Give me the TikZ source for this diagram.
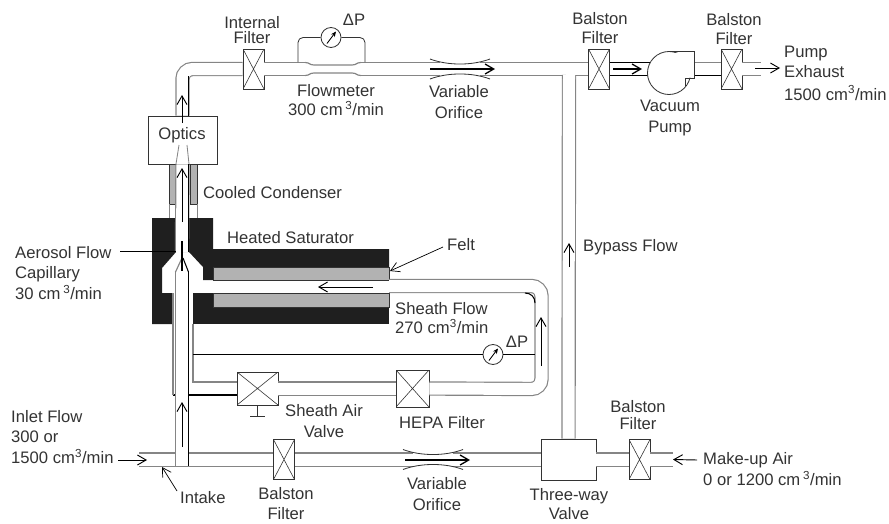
\documentclass[tikz,border=0pt]{standalone}
\usepackage{fontspec}
\setmainfont{Liberation Sans}
\usetikzlibrary{calc,arrows.meta}
\definecolor{tubegray}{gray}{0.52}
\definecolor{inkgray}{gray}{0.2}
\tikzset{
  labeltext/.style={inner sep=0pt,text=inkgray,align=center,font=\fontsize{14.2}{17.5}\selectfont},
  filterbox/.style={draw=inkgray,fill=white,line width=.7pt,inner sep=0pt,minimum width=.63cm,minimum height=1.2cm,
    path picture={\draw[inkgray,line width=.5pt] (path picture bounding box.north west) -- (path picture bounding box.south east)
      (path picture bounding box.north east) -- (path picture bounding box.south west);}},
  plainbox/.style={draw=inkgray,fill=white,line width=.7pt,inner sep=0pt},
  gaugedial/.style={circle,draw=inkgray,fill=white,line width=.7pt,inner sep=0pt,minimum size=.6cm,
    path picture={\draw[-{Stealth[length=.16cm,width=.14cm]},black,line width=.7pt] ($(path picture bounding box.center)+(-4,6)$) -- ($(path picture bounding box.center)+(5,-6)$);}},
  tube/.style={draw=tubegray,line width=1pt,double=white,double distance=.36cm},
  wall/.style={inkgray,line width=.7pt},
  graywall/.style={tubegray,line width=1pt},
  blackwall/.style={black,line width=.9pt},
  flowarrow/.style={-{Straight Barb[length=.26cm,width=.3cm]},black,line width=.8pt},
}
\begin{document}
\begin{tikzpicture}[x=0.03cm,y=-0.03cm]
  \useasboundingbox (0,0) rectangle (889,523);
  % SATURATOR BLOCK
  \fill[black!88] (152,218) -- (176,218) -- (176,252) -- (162,268) -- (162,293) -- (173,293) -- (173,324) -- (152,324) -- cycle;
  \fill[black!88] (189,218) -- (213,218) -- (213,249) -- (389,249) -- (389,280) -- (203,280) -- (203,267) -- (189,252) -- cycle;
  \fill[black!88] (193,293) rectangle (389,324);
  % Felt
  \draw[wall,fill=black!30] (213,267) rectangle (389,280);
  \draw[wall,fill=black!30] (213,293) rectangle (389,307);
  % Condenser
  \draw[wall,fill=black!30] (169,164) rectangle (176,204);
  \draw[wall,fill=black!30] (190,164) rectangle (197,204);
  \draw[tubegray] (169,204) -- (169,218) (197,204) -- (197,218);
  % BOXES
  \node[plainbox,minimum width=2.07cm,minimum height=1.44cm] (optics) at (182.5,140) {};
  \node[labeltext] (opticstext) at (182,135) {Optics};
  \node[filterbox] (internal) at (253.5,69) {};
  \node[filterbox] (balstonA) at (599,69) {};
  \node[filterbox] (balstonB) at (731.5,69) {};
  \node[filterbox] (balstonC) at (284,459.5) {};
  \node[filterbox] (balstonD) at (639.5,459.5) {};
  \node[filterbox,minimum width=1.23cm,minimum height=.99cm] (sheathvalve) at (257.5,388.5) {};
  \node[filterbox,minimum width=.99cm,minimum height=1.11cm] (hepa) at (412.5,388.5) {};
  \node[plainbox,minimum width=1.65cm,minimum height=1.23cm] (threeway) at (568.5,459.5) {};
  % Free ends of the tubes
  \coordinate (pumpin) at (650,69);
  \coordinate (pumpout) at (694,69);
  \coordinate (exhaust) at (761,69);
  \coordinate (bypasstop) at (569,75);
  \coordinate (intake) at (139,459.5);
  \coordinate (makeup) at (673,459.5);
  \coordinate (sheathend) at (389,286);
  \coordinate (sheathturn) at (541.5,389);
  \coordinate (innertop) at (182,272);
  \coordinate (innerbottom) at (182,466);
  \coordinate (condbottom) at (182,252);
  % MAIN TUBES
  \draw[tube,rounded corners=.3cm] (optics.north) |- (internal.west);
  \draw[tube] (internal.east) -- (balstonA.west);
  \draw[tube] (pumpout) -- (balstonB.west);
  \draw[tube] (balstonB.east) -- (exhaust);
  \draw[tube] (intake) -- (balstonC.west);
  \draw[tube] (balstonC.east) -- (threeway.west);
  \draw[tube] (threeway.east) -- (balstonD.west);
  \draw[tube] (balstonD.east) -- (makeup);
  \draw[tube] (threeway.north) -- (bypasstop);
  \draw[tube,draw=black] (balstonA.east) -- (pumpin);
  \draw[blackwall] (694,75.5) -- (balstonB.west |- 0,75.5);
  % SHEATH LOOP
  \draw[tube,rounded corners=.3cm] (sheathend) -| (sheathturn) -- (hepa.east);
  \draw[tube] (hepa.west) -- (sheathvalve.east);
  \draw[blackwall] (525,293) .. controls (531,293) and (535,297) .. (535,303);
  \draw[graywall] (237,382) -- (193,382) -- (193,324);
  \draw[blackwall] (237,395) -- (173,395);
  \draw[graywall] (173,395) -- (173,293);
  % INNER TUBE AND CAPILLARY
  \draw[tube] (innerbottom) -- (innertop);
  \draw[tube] (condbottom) -- (optics.south);
  \draw[blackwall] (188.5,76) -- (188.5,116);
  \draw[blackwall] (188.5,164) -- (188.5,252);
  \draw[blackwall] (188.5,271) -- (188.5,466);
  \draw[graywall] (175.5,272) -- (182,258);
  \draw[blackwall] (188.5,272) -- (183,258);
  \draw[black,line width=1.2pt] (182,241) -- (182,271);
  \draw[tubegray,line width=.7pt] (176,164) -- (179,145) (189,164) -- (187,145);
  % VARIABLE ORIFICES
  \foreach \cx/\cy in {460/69,433/459.5} {
    \fill[white] (\cx-20,\cy-7.5) rectangle (\cx+20,\cy-5);
    \fill[white] (\cx-20,\cy+7.5) rectangle (\cx+20,\cy+5);
    \draw[wall] (\cx-30,\cy-10) .. controls (\cx-12,\cy-3.3) and (\cx+12,\cy-3.3) .. (\cx+30,\cy-10);
    \draw[wall] (\cx-30,\cy+10) .. controls (\cx-12,\cy+3.3) and (\cx+12,\cy+3.3) .. (\cx+30,\cy+10);
  }
  % FLOWMETER
  \fill[white] (305,61.5) rectangle (361,76.5);
  \draw[graywall] (305,62.5) .. controls (310,62.5) and (309,65) .. (314,65) -- (352,65) .. controls (357,65) and (356,62.5) .. (361,62.5);
  \draw[graywall] (305,75.5) .. controls (310,75.5) and (309,73) .. (314,73) -- (352,73) .. controls (357,73) and (356,75.5) .. (361,75.5);
  \node[gaugedial] (gaugetop) at (331,37.5) {};
  \coordinate (tapleft) at (298,62);
  \coordinate (tapright) at (365,62);
  \draw[wall,rounded corners=.15cm] (gaugetop.west) -| (tapleft);
  \draw[wall,rounded corners=.15cm] (gaugetop.east) -| (tapright);
  % SHEATH PRESSURE
  \node[gaugedial] (gaugelow) at (493,354.5) {};
  \coordinate (tapinner) at (193,354.5);
  \coordinate (tapouter) at (535,354.5);
  \draw[blackwall] (tapinner) -- (gaugelow.west);
  \draw[blackwall] (gaugelow.east) -- (tapouter);
  % Valve handle
  \coordinate (handle) at (257.5,416);
  \draw[wall] (sheathvalve.south) -- (handle);
  \draw[wall] (250,416) -- (265,416);
  % VACUUM PUMP
  \node[circle,draw=inkgray,fill=white,line width=.7pt,inner sep=0pt,minimum size=1.29cm] (pump) at (669,73) {};
  \fill[white] (671,53) -- (693.5,53) -- (693.5,77.5) -- (684,77.5) -- (681,70) -- cycle;
  \draw[wall] (669,51.5) -- (694,51.5) -- (694,78) -- (685,78) -- (685,86);
  % FLOW ARROWS
  \draw[flowarrow] (182,123) -- (182,95);
  \draw[flowarrow] (182,222) -- (182,168);
  \draw[flowarrow] (182,447) -- (182,402);
  \draw[flowarrow] (373,287) -- (318,287);
  \draw[flowarrow] (541,366) -- (541,317);
  \draw[flowarrow] (569,267) -- (569,243);
  \draw[flowarrow,line width=1.1pt] (430,69) -- (495,69);
  \draw[flowarrow,line width=1.1pt] (405,460) -- (470,460);
  \draw[flowarrow,line width=1.1pt] (613,69) -- (642,69);
  % LABELS
  \node[labeltext] (internaltext) at (252,30) {Internal\\[-4pt]Filter};
  \node[labeltext] (dptop) at (354,20) {ΔP};
  \node[labeltext] (flowmetertext) at (336,100) {Flowmeter\\[-1pt]300 cm\,\textsuperscript{3}/min};
  \node[labeltext] (orificetop) at (459,102) {Variable\\Orifice};
  \node[labeltext] (balstonAtext) at (600,28) {Balston\\[-2pt]Filter};
  \node[labeltext] (balstonBtext) at (734,29) {Balston\\[-1.5pt]Filter};
  \node[labeltext] (pumptext) at (670,118) {Vacuum\\Pump};
  \node[labeltext,align=left,anchor=west] (exhausttext) at (784,73) {Pump\\Exhaust\\[1.5pt]1500 cm\textsuperscript{3}/min};
  \node[labeltext,anchor=west] (condensertext) at (203,193) {Cooled Condenser};
  \node[labeltext,anchor=west] (saturatortext) at (227,238) {Heated Saturator};
  \node[labeltext,anchor=west] (felttext) at (447,245) {Felt};
  \node[labeltext,align=left,anchor=west] (sheathtext) at (395,318) {Sheath Flow\\[-1pt]270 cm\textsuperscript{3}/min};
  \node[labeltext,anchor=west] (bypasstext) at (583,247) {Bypass Flow};
  \node[labeltext] (dplow) at (517,342) {ΔP};
  \node[labeltext,align=left,anchor=west] (aerosoltext) at (15,273) {Aerosol Flow\\Capillary\\30 cm\,\textsuperscript{3}/min};
  \node[labeltext,align=left,anchor=west] (inlettext) at (11,437) {Inlet Flow\\300 or\\1500 cm\textsuperscript{3}/min};
  \node[labeltext,anchor=west] (intaketext) at (180,498) {Intake};
  \node[labeltext] (balstonCtext) at (286,503.5) {Balston\\[-1pt]Filter};
  \node[labeltext] (valvetext) at (324,421) {Sheath Air\\[1pt]Valve};
  \node[labeltext] (hepatext) at (442,423) {HEPA Filter};
  \node[labeltext] (orificelow) at (437,494) {Variable\\[1pt]Orifice};
  \node[labeltext] (threewaytext) at (569,504) {Three-way\\[-2pt]Valve};
  \node[labeltext] (balstonDtext) at (638,415) {Balston\\[-3pt]Filter};
  \node[labeltext,align=left,anchor=west] (makeuptext) at (703,469) {Make-up Air\\[1pt]0 or 1200 cm\,\textsuperscript{3}/min};
  % LABEL LEADERS
  \coordinate (aerosolstart) at (120,251);
  \coordinate (capillary) at (176,251);
  \draw[black,line width=.7pt] (aerosolstart) -- (capillary);
  \coordinate (inletstart) at (118,460);
  \coordinate (inletend) at (147,460);
  \draw[flowarrow] (inletstart) -- (inletend);
  \coordinate (intaketip) at (162,467);
  \coordinate (intakestart) at (177,491);
  \draw[flowarrow,line width=.6pt] (intakestart) -- (intaketip);
  \coordinate (feltstart) at (443,247);
  \coordinate (felttip) at (390,271);
  \draw[flowarrow,line width=.6pt] (feltstart) -- (felttip);
  \coordinate (exhauststart) at (755,68);
  \coordinate (exhausttip) at (780,68);
  \draw[flowarrow] (exhauststart) -- (exhausttip);
  \coordinate (makeupstart) at (697,460);
  \draw[flowarrow] (makeupstart) -- (makeup);
\end{tikzpicture}
\end{document}
